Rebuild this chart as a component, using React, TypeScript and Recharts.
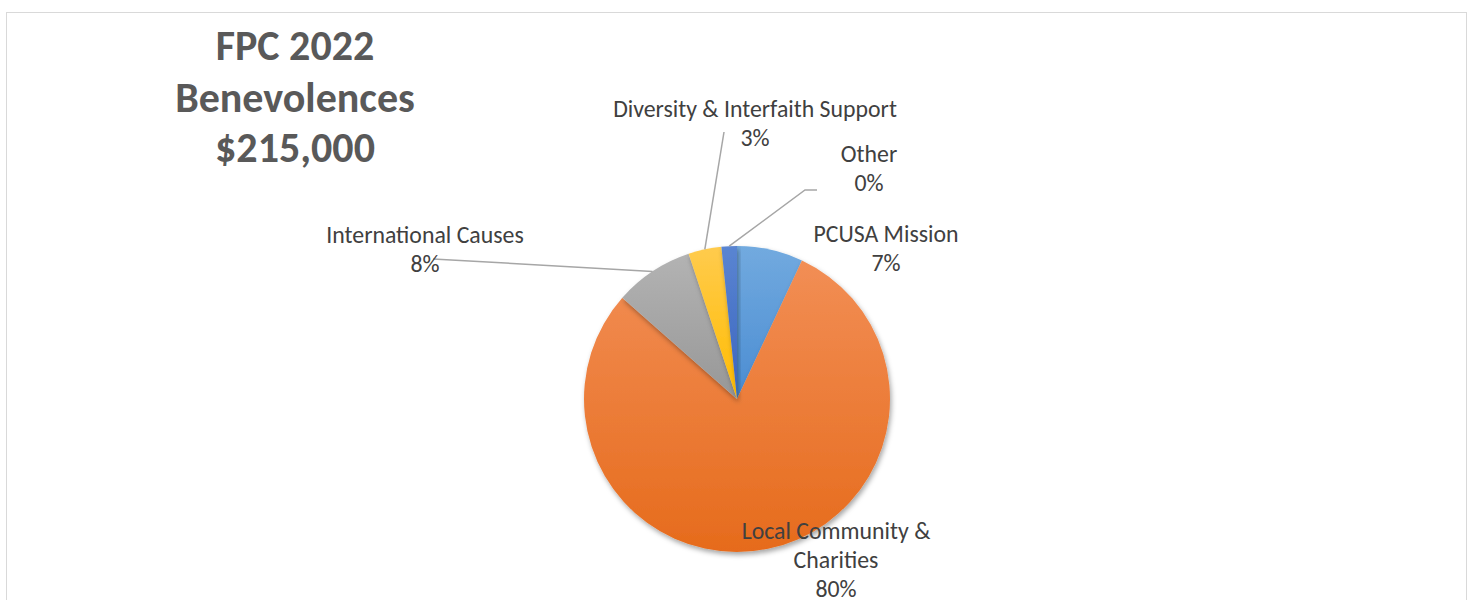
import React from "react";
import { PieChart, Pie, Cell } from "recharts";

const categories = [
  "PCUSA Mission",
  "Local Community & Charities",
  "International Causes",
  "Diversity & Interfaith Support",
  "Other",
];
const amounts = [15000, 171000, 18000, 7500, 3500];
const percentLabels = ["7%", "80%", "8%", "3%", "0%"];
const titleLines = ["FPC 2022", "Benevolences", "$215,000"];

const gradients = [
  ["#72AADF", "#4A8CD2"],
  ["#F28E55", "#E66B1C"],
  ["#B3B3B3", "#979797"],
  ["#FFCB4D", "#FFBC00"],
  ["#5A85D2", "#3A64BE"],
];

const data = categories.map((name, i) => ({ name, value: amounts[i], pct: percentLabels[i] }));

const W = 1473;
const H = 600;
const CX = 737;
const CY = 399;
const R = 153;
const LINE_H = 29;
const FONT = "Carlito, Calibri, 'Open Sans', sans-serif";

// label layout relative to pie centre: text centre x, first baseline y, optional leader line
const labelLayout = [
  { dx: 149, dy: -157, wrap: 0, leader: null },
  { dx: 99, dy: 140, wrap: 18, leader: null },
  { dx: -312, dy: -156, wrap: 0, leader: [[-304, -140]] },
  { dx: 18, dy: -282, wrap: 0, leader: [[-13, -267]] },
  { dx: 132, dy: -237, wrap: 0, leader: [[68, -209], [80, -209]] },
];

function wrapText(text: string, width: number): string[] {
  if (!width) return [text];
  const words = text.split(" ");
  const lines: string[] = [];
  let cur = "";
  for (const w of words) {
    const next = cur ? cur + " " + w : w;
    if (next.length > width && cur) {
      lines.push(cur);
      cur = w;
    } else cur = next;
  }
  if (cur) lines.push(cur);
  return lines;
}

const RADIAN = Math.PI / 180;

function renderLabel(props: any) {
  const { cx, cy, midAngle, outerRadius, index, name, payload } = props;
  const lay = labelLayout[index];
  const lines = [...wrapText(name, lay.wrap), payload.pct ?? percentLabels[index]];
  const tx = cx + lay.dx;
  const ty = cy + lay.dy;
  let leader = null;
  if (lay.leader) {
    const sx = cx + outerRadius * Math.cos(-midAngle * RADIAN);
    const sy = cy + outerRadius * Math.sin(-midAngle * RADIAN);
    const pts = [[sx, sy], ...lay.leader.map(([x, y]) => [cx + x, cy + y])];
    leader = (
      <polyline
        points={pts.map((p) => p.join(",")).join(" ")}
        fill="none"
        stroke="#A6A6A6"
        strokeWidth={1.5}
      />
    );
  }
  return (
    <g key={`lbl-${index}`}>
      {leader}
      <text textAnchor="middle" fill="#404040" fontSize={23.8} fontFamily={FONT}>
        {lines.map((l, i) => (
          <tspan key={i} x={tx} y={ty + i * LINE_H}>
            {l}
          </tspan>
        ))}
      </text>
    </g>
  );
}

const titleBaselines = [60, 111.5, 161.5];

export default function App() {
  return (
    <div style={{ position: "relative", width: W, height: H, overflow: "hidden", background: "#fff" }}>
      <style>{`body{margin:0;}`}</style>
      <div
        style={{
          position: "absolute",
          left: 6,
          top: 12,
          width: 1461,
          height: 620,
          border: "1.5px solid #D9D9D9",
          boxSizing: "border-box",
        }}
      />
      <svg width={W} height={H} style={{ position: "absolute", left: 0, top: 0 }}>
        <text textAnchor="middle" fill="#595959" fontSize={42} fontWeight={700} fontFamily={FONT}>
          {titleLines.map((t, i) => (
            <tspan key={i} x={295} y={titleBaselines[i]}>
              {t}
            </tspan>
          ))}
        </text>
      </svg>
      <div style={{ position: "absolute", left: 0, top: 0 }}>
        <PieChart width={W} height={H} margin={{ top: 0, right: 0, bottom: 0, left: 0 }}>
          <defs>
            {gradients.map((g, i) => (
              <linearGradient key={i} id={`grad${i}`} x1="0" y1="0" x2="0" y2="1">
                <stop offset="0%" stopColor={g[0]} />
                <stop offset="100%" stopColor={g[1]} />
              </linearGradient>
            ))}
            <filter id="pieShadow" x="-20%" y="-20%" width="140%" height="140%">
              <feDropShadow dx="1.5" dy="3" stdDeviation="2.5" floodColor="#000" floodOpacity="0.35" />
            </filter>
          </defs>
          <Pie
            data={data}
            dataKey="value"
            nameKey="name"
            cx={CX}
            cy={CY}
            outerRadius={R}
            startAngle={90}
            endAngle={-270}
            stroke="none"
            isAnimationActive={false}
            labelLine={false}
            label={renderLabel}
          >
            {data.map((_, i) => (
              <Cell key={i} fill={`url(#grad${i})`} filter="url(#pieShadow)" />
            ))}
          </Pie>
        </PieChart>
      </div>
    </div>
  );
}
